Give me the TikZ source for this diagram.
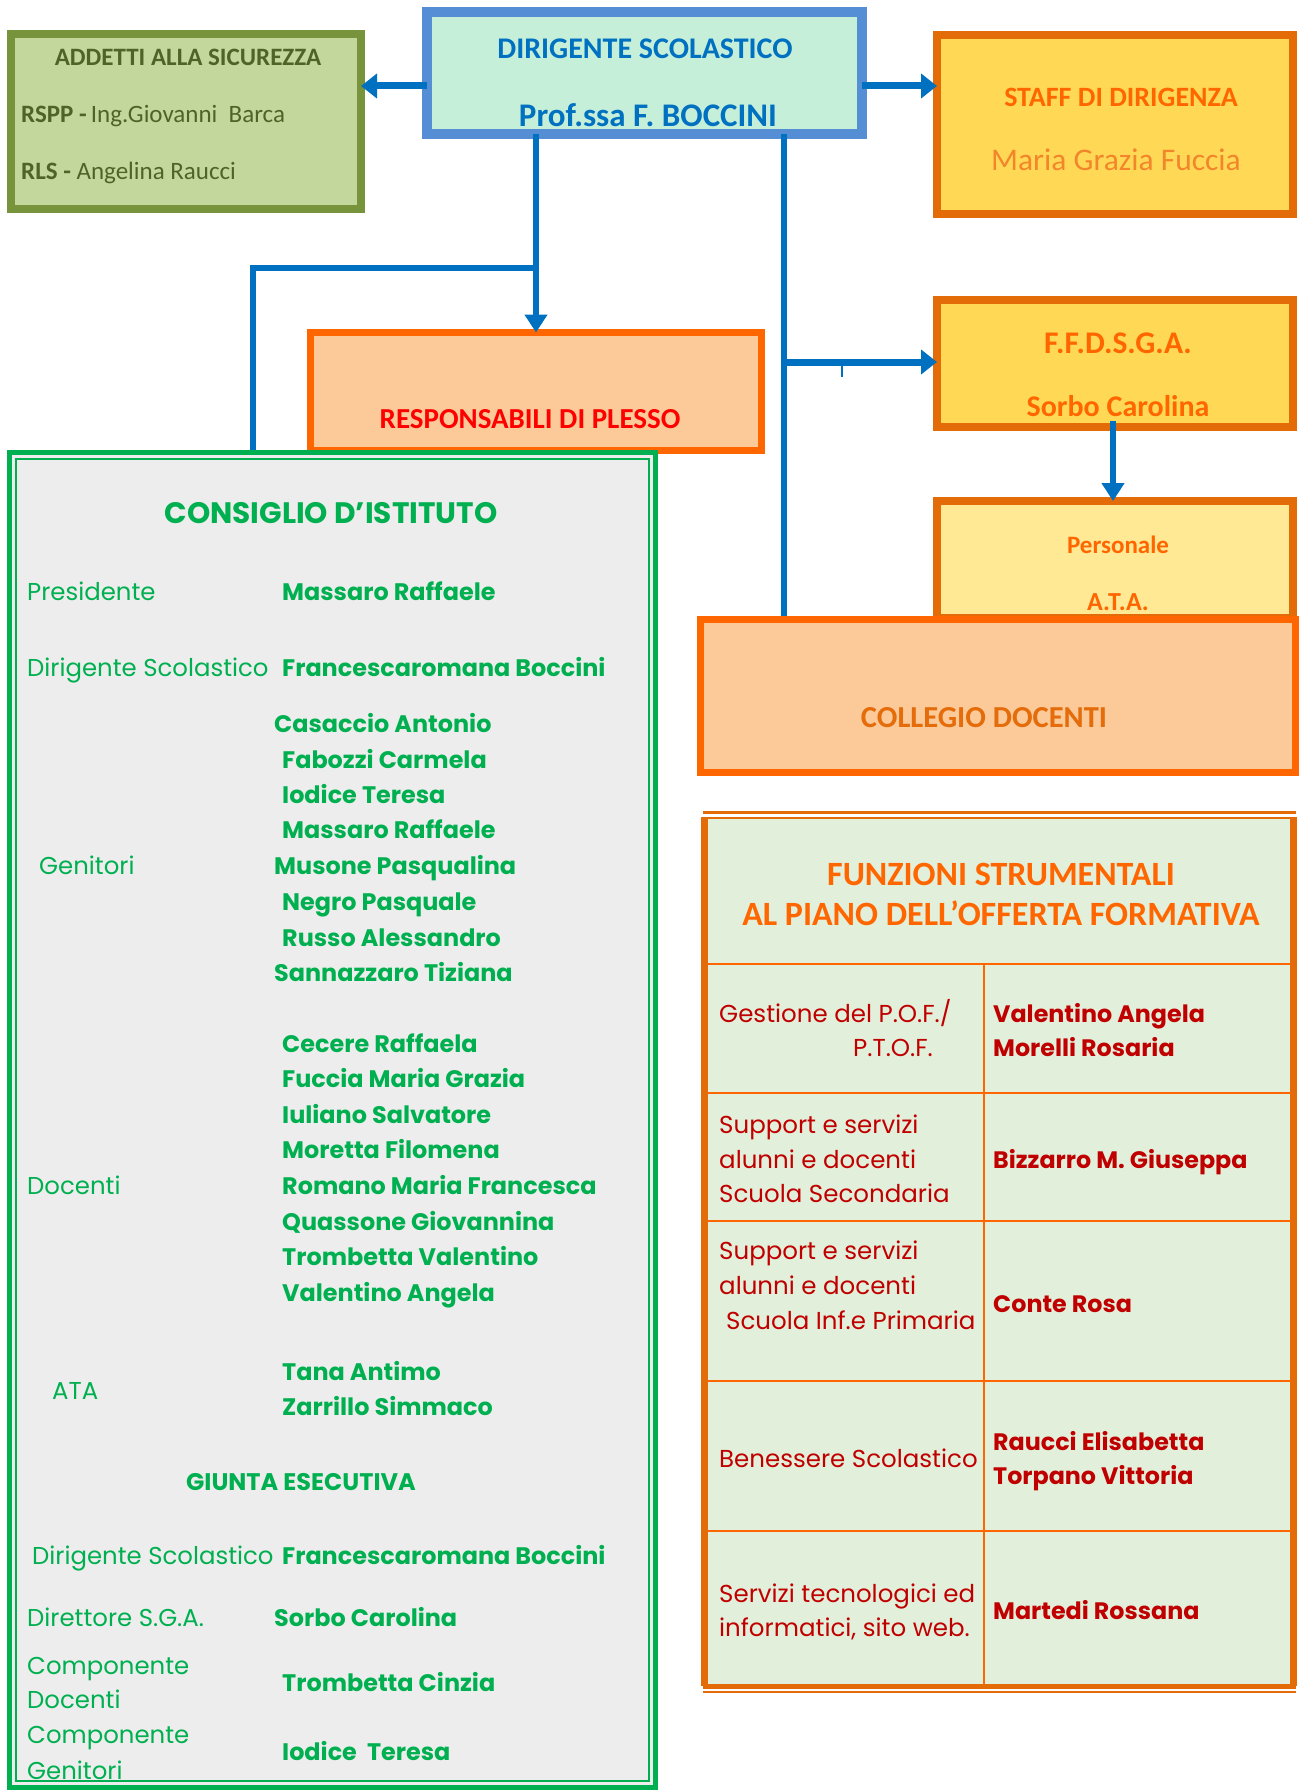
\documentclass[tikz,border=0pt]{standalone}
\usepackage{fontspec}
\setmainfont{Carlito}
\newfontfamily\cg{Poppins}
\usetikzlibrary{arrows.meta}
\definecolor{cblue}{HTML}{0070C0}
\definecolor{dirfill}{HTML}{C6EFD9}
\definecolor{dirdraw}{HTML}{558ED5}
\definecolor{addfill}{HTML}{C3D69B}
\definecolor{adddraw}{HTML}{77933C}
\definecolor{addtext}{HTML}{4F6228}
\definecolor{yfill}{HTML}{FFD955}
\definecolor{ydraw}{HTML}{E36C09}
\definecolor{pfill}{HTML}{FFE994}
\definecolor{peach}{HTML}{FCCA98}
\definecolor{odraw}{HTML}{FF6600}
\definecolor{otext}{HTML}{FF6600}
\definecolor{ctext}{HTML}{E46C0A}
\definecolor{gfill}{HTML}{EDEDED}
\definecolor{gdraw}{HTML}{00B050}
\definecolor{gtext}{HTML}{00B050}
\definecolor{tfill}{HTML}{E2EFDA}
\definecolor{rtext}{HTML}{C00000}
\definecolor{staffname}{HTML}{F3862A}
\newcommand\fsz[1]{\fontsize{#1}{#1}\selectfont}
\tikzset{
  tx/.style={inner sep=0pt, text height=0.75em, text depth=0.05em, yshift=-7pt},
  txw/.style={tx, anchor=west},
  box/.style={inner sep=0pt, outer sep=0pt},
  conn/.style={draw=cblue, line width=6pt},
  bigtip/.style={-{Triangle[length=16pt,width=24pt]}},
  vtip/.style={-{Triangle[length=18pt,width=22pt]}},
  glab/.style={txw, text=gtext, font=\cg\fsz{24.4}},
  gname/.style={txw, text=gtext, font=\cg\bfseries\fsz{23.9}},
  tlab/.style={txw, text=rtext, font=\cg\fsz{24.5}},
  tname/.style={txw, text=rtext, font=\cg\bfseries\fsz{23.8}},
  tline/.style={draw=odraw, line width=2.5pt},
}
\begin{document}
\begin{tikzpicture}[x=1pt,y=-1pt]
\useasboundingbox (0,0) rectangle (1302,1790);
% ---------- boxes ----------
\node[box, draw=adddraw, fill=addfill, line width=8pt, minimum width=350pt, minimum height=175pt] (add) at (186,121.5) {};
\node[box, draw=dirdraw, fill=dirfill, line width=10pt, minimum width=435pt, minimum height=122pt] (dir) at (644.5,73) {};
\node[box, draw=ydraw, fill=yfill, line width=8pt, minimum width=356pt, minimum height=179pt] (staff) at (1115,124.5) {};
\node[box, draw=odraw, fill=peach, line width=7pt, minimum width=451pt, minimum height=118pt] (resp) at (536,391.5) {};
\node[box, draw=ydraw, fill=yfill, line width=8pt, minimum width=356pt, minimum height=127pt] (ffd) at (1115,363.5) {};
\node[box, draw=ydraw, fill=pfill, line width=8pt, minimum width=356pt, minimum height=117pt] (pers) at (1115,559.5) {};
% connectors (drawn before collegio and consiglio so they are overlapped)
\coordinate (ya) at (0,86);
\coordinate (xa) at (536,0);
\coordinate (xb) at (784,0);
\coordinate (xc) at (253,0);
\coordinate (yb) at (0,268);
\coordinate (yc) at (0,362);
\coordinate (xd) at (1113,0);
\draw[conn, line width=7pt, bigtip] (dir.west |- ya) -- (add.east |- ya);
\draw[conn, line width=7pt, bigtip] (dir.east |- ya) -- (staff.west |- ya);
\draw[conn, vtip] (dir.south -| xa) -- (resp.north -| xa);
\draw[conn] (xa |- yb) -- (xc |- yb) -- ([yshift=-6pt]xc |- {(0,456)});
\draw[conn] (dir.south -| xb) -- ([yshift=-4pt]xb |- {(0,616)});
\draw[conn, line width=7pt, bigtip] (xb |- yc) -- (ffd.west |- yc);
\draw[conn, vtip] ([yshift=6pt]ffd.south -| xd) -- (pers.north -| xd);
\coordinate (tk1) at (842,366);
\coordinate (tk2) at (842,377);
\draw[draw=cblue, line width=1.5pt] (tk1) -- (tk2);
\node[box, draw=odraw, fill=peach, line width=7pt, minimum width=595pt, minimum height=153pt] (coll) at (998,696) {};
% consiglio
\node[box, draw=gdraw, fill=gfill, line width=5pt, minimum width=646pt, minimum height=1335pt] (cons) at (332.5,1120) {};
\node[box, draw=gdraw, line width=2pt, minimum width=633pt, minimum height=1322pt] (consin) at (332.5,1120) {};
% table
\node[box, fill=tfill, minimum width=582pt, minimum height=869pt] (tab) at (999,1251.5) {};
\draw[draw=ydraw, line width=7pt] (tab.north west) ++(-3.5,0) coordinate (tl) -- (tl |- tab.south);
\draw[draw=ydraw, line width=7pt] (tab.north east) ++(3.5,0) coordinate (tr) -- (tr |- tab.south);
\coordinate (tx1) at (703,0);
\coordinate (tx2) at (1296,0);
\draw[draw=ydraw, line width=3pt] (tx1 |- {(0,812.5)}) -- (tx2 |- {(0,812.5)});
\draw[draw=ydraw, line width=2pt] (tx1 |- {(0,818)}) -- (tx2 |- {(0,818)});
\draw[draw=ydraw, line width=5pt] (tx1 |- {(0,1686)}) -- (tx2 |- {(0,1686)});
\draw[draw=ydraw, line width=2.5pt] (tx1 |- {(0,1692)}) -- (tx2 |- {(0,1692)});
\foreach \yy in {964,1093,1221,1381,1531} {
  \draw[tline] (tab.west |- {(0,\yy)}) -- (tab.east |- {(0,\yy)});
}
\draw[tline] (984,964) -- (984,1684);
% ---------- texts top ----------
\node[tx, text=addtext, font=\bfseries\fsz{25}] (addT) at (188,55) {ADDETTI ALLA SICUREZZA};
\node[txw, text=addtext, font=\fsz{25}] (addR1) at (21,112) {\textbf{RSPP -}\,Ing.Giovanni\ \ Barca};
\node[txw, text=addtext, font=\fsz{25}] (addR2) at (21,169) {\textbf{RLS -} Angelina Raucci};
\node[tx, text=cblue, font=\bfseries\fsz{30}] (dirT1) at (645,48) {DIRIGENTE SCOLASTICO};
\node[tx, text=cblue, font=\bfseries\fsz{33}] (dirT2) at (648,116) {Prof.ssa F. BOCCINI};
\node[tx, text=otext, font=\bfseries\fsz{28}] (staffT1) at (1121,96) {STAFF DI DIRIGENZA};
\node[tx, text=staffname, font=\fsz{31.5}] (staffT2) at (1116,160) {Maria Grazia Fuccia};
\node[tx, text=red, font=\bfseries\fsz{29}] (respT) at (530,418) {RESPONSABILI DI PLESSO};
\node[tx, text=otext, font=\bfseries\fsz{31.5}] (ffdT1) at (1118,343) {F.F.D.S.G.A.};
\node[tx, text=otext, font=\bfseries\fsz{30}] (ffdT2) at (1118,406) {Sorbo Carolina};
\node[tx, text=otext, font=\bfseries\fsz{25}] (persT1) at (1118,543) {Personale};
\node[tx, text=otext, font=\bfseries\fsz{26}] (persT2) at (1118,600) {A.T.A.};
\node[tx, text=ctext, font=\bfseries\fsz{30.5}] (collT) at (984,717) {COLLEGIO DOCENTI};
% ---------- consiglio texts ----------
\node[tx, text=gtext, font=\cg\bfseries\fsz{29.6}] (consT) at (331,513) {CONSIGLIO D’ISTITUTO};
\node[glab] (l1) at (27,590) {Presidente};
\node[gname] (n1) at (282,590) {Massaro Raffaele};
\node[glab] (l2) at (27,666) {Dirigente Scolastico};
\node[gname] (n2) at (282,666) {Francescaromana Boccini};
\node[gname] (g1) at (274,722) {Casaccio Antonio};
\node[gname] (g2) at (282,758) {Fabozzi Carmela};
\node[gname] (g3) at (282,793) {Iodice Teresa};
\node[gname] (g4) at (282,828) {Massaro Raffaele};
\node[gname] (g5) at (274,864) {Musone Pasqualina};
\node[gname] (g6) at (282,900) {Negro Pasquale};
\node[gname] (g7) at (282,936) {Russo Alessandro};
\node[gname] (g8) at (274,971) {Sannazzaro Tiziana};
\node[glab] (l3) at (39,864) {Genitori};
\node[gname] (d1) at (282,1042) {Cecere Raffaela};
\node[gname] (d2) at (282,1077) {Fuccia Maria Grazia};
\node[gname] (d3) at (282,1113) {Iuliano Salvatore};
\node[gname] (d4) at (282,1148) {Moretta Filomena};
\node[gname] (d5) at (282,1184) {Romano Maria Francesca};
\node[gname] (d6) at (282,1220) {Quassone Giovannina};
\node[gname] (d7) at (282,1255) {Trombetta Valentino};
\node[gname] (d8) at (282,1291) {Valentino Angela};
\node[glab] (l4) at (27,1184) {Docenti};
\node[glab] (l5) at (52,1389) {ATA};
\node[gname] (a1) at (282,1370) {Tana Antimo};
\node[gname] (a2) at (282,1405) {Zarrillo Simmaco};
\node[tx, text=gtext, font=\cg\bfseries\fsz{24}] (giuT) at (301,1480) {GIUNTA ESECUTIVA};
\node[glab] (l6) at (32,1554) {Dirigente Scolastico};
\node[gname] (j1) at (282,1554) {Francescaromana Boccini};
\node[glab] (l7) at (27,1616) {Direttore S.G.A.};
\node[gname] (j2) at (274,1616) {Sorbo Carolina};
\node[glab] (l8) at (27,1664) {Componente};
\node[glab] (l9) at (27,1698) {Docenti};
\node[gname] (j3) at (282,1681) {Trombetta Cinzia};
\node[glab] (l10) at (27,1733) {Componente};
\node[glab] (l11) at (27,1769) {Genitori};
\node[gname] (j4) at (282,1750) {Iodice\ \ Teresa};
% ---------- table texts ----------
\node[tx, text=otext, font=\bfseries\fsz{34}] (fT1) at (1001,875) {FUNZIONI STRUMENTALI};
\node[tx, text=otext, font=\bfseries\fsz{34}] (fT2) at (1001,915) {AL PIANO DELL’OFFERTA FORMATIVA};
\node[tlab] (r1a) at (719,1012) {Gestione del P.O.F./};
\node[tlab] (r1b) at (853,1046) {P.T.O.F.};
\node[tname] (r1n1) at (993,1012) {Valentino Angela};
\node[tname] (r1n2) at (993,1046) {Morelli Rosaria};
\node[tlab] (r2a) at (719,1123) {Support e servizi};
\node[tlab] (r2b) at (719,1158) {alunni e docenti};
\node[tlab] (r2c) at (719,1192) {Scuola Secondaria};
\node[tname] (r2n) at (993,1158) {Bizzarro M. Giuseppa};
\node[tlab] (r3a) at (719,1249) {Support e servizi};
\node[tlab] (r3b) at (719,1284) {alunni e docenti};
\node[tlab] (r3c) at (726,1319) {Scuola Inf.e Primaria};
\node[tname] (r3n) at (993,1302) {Conte Rosa};
\node[tlab] (r4a) at (719,1457) {Benessere Scolastico};
\node[tname] (r4n1) at (993,1440) {Raucci Elisabetta};
\node[tname] (r4n2) at (993,1474) {Torpano Vittoria};
\node[tlab] (r5a) at (719,1592) {Servizi tecnologici ed};
\node[tlab] (r5b) at (719,1626) {informatici, sito web.};
\node[tname] (r5n) at (993,1609) {Martedi Rossana};
\end{tikzpicture}
\end{document}
